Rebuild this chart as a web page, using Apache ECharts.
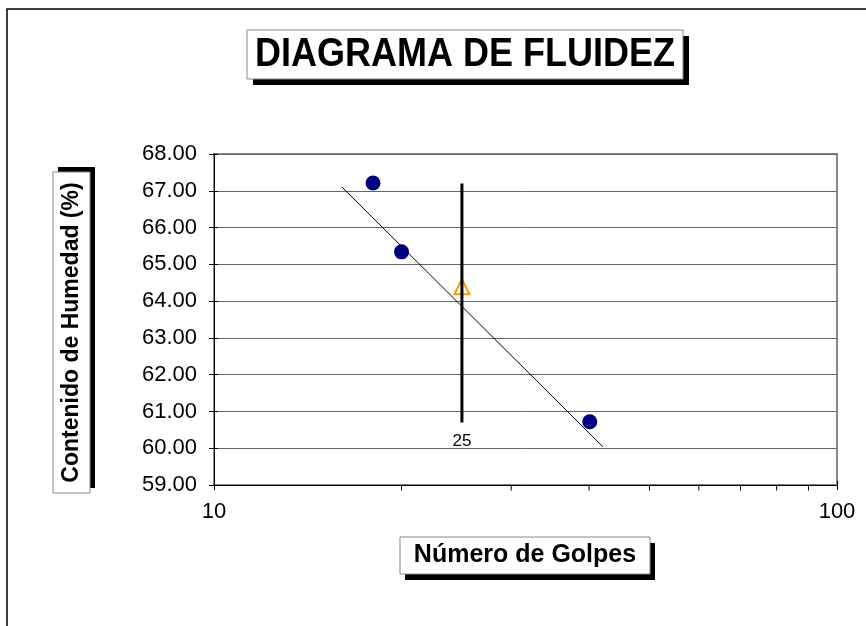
<!DOCTYPE html>
<html>
<head>
<meta charset="utf-8">
<script src="https://cdn.jsdelivr.net/npm/echarts@6/dist/echarts.min.js"></script>
<style>
  html, body { margin: 0; padding: 0; background: #fff; }
  #main { width: 866px; height: 626px; }
</style>
</head>
<body>
<div id="main"></div>
<script>
// puntos medidos (golpes, humedad %)
var golpes = [18.0, 20.0, 40.1];
var humedad = [67.21, 65.34, 60.72];
// punto a 25 golpes
var punto25 = [[25, 64.39]];
// linea de tendencia
var tendencia = [[16.05, 67.10], [42.1, 60.04]];
// linea vertical en 25 golpes
var linea25 = [[25, 67.2], [25, 60.7]];
// marcas menores del eje x
var marcasMenores = [20, 30, 40, 50, 60, 70, 80, 90];
var yMin = 59, yMax = 68;

var myChart = echarts.init(document.getElementById('main'));
var font = 'Liberation Sans, Arial, sans-serif';

var puntos = golpes.map(function (g, i) { return [g, humedad[i]]; });
var menores = marcasMenores.map(function (v) { return [v, yMin]; });

function cajaSombra(x, y, w, h, dx, dy, texto, size, rot, sy) {
    var els = [
        { type: 'rect', shape: { x: x + dx, y: y + dy, width: w, height: h }, style: { fill: '#000' } },
        { type: 'rect', shape: { x: x, y: y, width: w, height: h }, style: { fill: '#fff', stroke: '#888', lineWidth: 1 } }
    ];
    els.push({
        type: 'text', x: x + w / 2, y: y + h / 2,
        rotation: rot ? Math.PI / 2 : 0,
        scaleY: sy || 1,
        style: { text: texto, font: 'bold ' + size + 'px ' + font, fill: '#000', align: 'center', verticalAlign: 'middle' }
    });
    return els;
}

var graficos = [
    { type: 'rect', shape: { x: 7, y: 9, width: 900, height: 700 }, style: { fill: null, stroke: '#000', lineWidth: 1.5 } }
].concat(
    cajaSombra(247, 30, 436, 49, 6, 6, 'DIAGRAMA DE FLUIDEZ', 36, false, 1.15),
    cajaSombra(53, 172, 37, 321, 5, -5, 'Contenido de Humedad (%)', 23, true),
    cajaSombra(400, 537, 250, 37, 5, 6, 'Número de Golpes', 25, false)
);

myChart.setOption({
    animation: false,
    backgroundColor: '#fff',
    grid: {
        left: 214, top: 154, right: 29, bottom: 141,
        show: true, borderColor: '#888', borderWidth: 2
    },
    xAxis: [{
        type: 'log', logBase: 10, min: 10, max: 100,
        axisLine: { lineStyle: { color: '#000', width: 1 } },
        axisTick: { show: true, length: 5, lineStyle: { color: '#000' } },
        axisLabel: { color: '#000', fontFamily: font, fontSize: 22, margin: 16 },
        splitLine: { show: false }
    }, {
        type: 'log', logBase: 10, min: 10, max: 100, position: 'bottom',
        axisLine: { show: false },
        axisTick: { show: true, inside: true, length: 4, lineStyle: { color: '#000' } },
        axisLabel: { show: false },
        splitLine: { show: false }
    }],
    yAxis: [{
        type: 'value', min: yMin, max: yMax, interval: 1,
        axisLine: { show: true, lineStyle: { color: '#000', width: 1 } },
        axisTick: { show: true, length: 5, lineStyle: { color: '#000' } },
        axisLabel: {
            color: '#000', fontFamily: font, fontSize: 22, margin: 17,
            formatter: function (v) { return v.toFixed(2); }
        },
        splitLine: { show: true, lineStyle: { color: '#666', width: 1 } }
    }, {
        type: 'value', min: yMin, max: yMax, interval: 1, position: 'left',
        axisLine: { show: false },
        axisTick: { show: true, inside: true, length: 4, lineStyle: { color: '#000' } },
        axisLabel: { show: false },
        splitLine: { show: false }
    }],
    series: [
        {
            type: 'line', data: tendencia, symbol: 'none', silent: true,
            lineStyle: { color: '#000', width: 1 }
        },
        {
            type: 'line', data: linea25, symbol: 'none', silent: true,
            lineStyle: { color: '#000', width: 3 }
        },
        {
            type: 'scatter', data: [linea25[1]], symbolSize: 1, silent: true,
            itemStyle: { color: 'rgba(0,0,0,0)', opacity: 1 },
            label: {
                show: true, position: 'bottom', distance: 10,
                formatter: function (p) { return String(p.value[0]); },
                color: '#000', opacity: 1, fontFamily: font, fontSize: 17
            }
        },
        {
            type: 'scatter', data: puntos, symbol: 'circle', symbolSize: 15,
            itemStyle: { color: '#000080', opacity: 1 }
        },
        {
            type: 'scatter', data: punto25, symbol: 'triangle', symbolSize: 15,
            itemStyle: { color: 'rgba(0,0,0,0)', borderColor: '#ff9900', borderWidth: 2, opacity: 1 }
        },
        {
            type: 'scatter', data: menores, symbol: 'rect', symbolSize: [1, 5],
            symbolOffset: [0, 3], clip: false, silent: true,
            itemStyle: { color: '#000', opacity: 1 }
        }
    ],
    graphic: graficos
});
</script>
</body>
</html>
